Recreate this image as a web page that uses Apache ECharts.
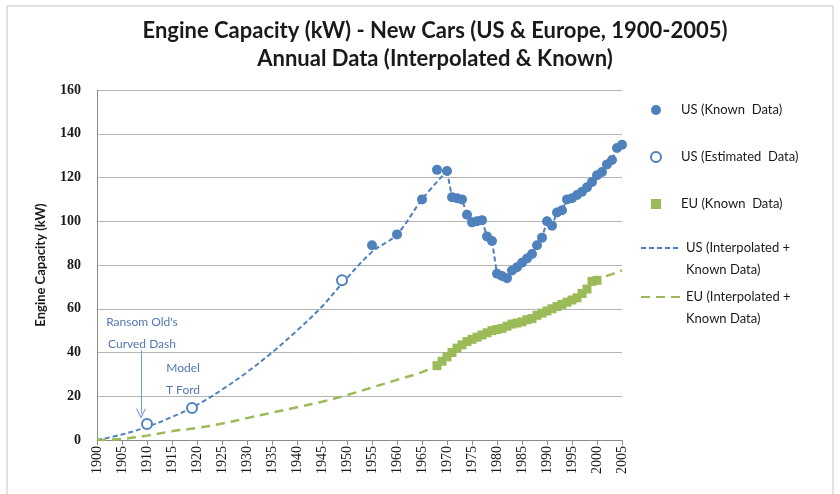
<!DOCTYPE html>
<html>
<head>
<meta charset="utf-8">
<script src="https://cdn.jsdelivr.net/npm/echarts@6/dist/echarts.min.js"></script>
<style>
  html, body { margin: 0; padding: 0; background: #fff; }
  #chart { width: 840px; height: 494px; }
</style>
</head>
<body>
<div id="chart"></div>
<script>
// US known annual capacities (kW)
const usKnownYears = [1955, 1960, 1965, 1968, 1970, 1971, 1972, 1973, 1974, 1975, 1976, 1977, 1978, 1979,
  1980, 1981, 1982, 1983, 1984, 1985, 1986, 1987, 1988, 1989, 1990, 1991, 1992, 1993, 1994, 1995,
  1996, 1997, 1998, 1999, 2000, 2001, 2002, 2003, 2004, 2005];
const usKnownValues = [89, 94, 110, 123.5, 123, 111, 110.5, 110, 103, 99.5, 100, 100.5, 93, 91,
  76, 75, 74, 77.5, 79, 81, 83, 85, 89, 92.5, 100, 98, 104, 105, 110, 110.5,
  112, 113.5, 115.5, 118, 121, 122.5, 126, 128, 133.5, 135];

// US estimated early models
const usEstYears = [1910, 1919, 1949];
const usEstValues = [7.3, 14.6, 73];

// EU known annual capacities (kW)
const euKnownYears = [1968, 1969, 1970, 1971, 1972, 1973, 1974, 1975, 1976, 1977, 1978, 1979, 1980,
  1981, 1982, 1983, 1984, 1985, 1986, 1987, 1988, 1989, 1990, 1991, 1992, 1993, 1994, 1995, 1996,
  1997, 1998, 1999, 2000];
const euKnownValues = [34, 36, 38, 40, 42, 43.5, 45, 46, 47, 48, 49, 50, 50.5,
  51, 52, 53, 53.5, 54, 55, 55.5, 57, 58, 59, 60, 61, 62, 63, 64, 65,
  67, 69, 72.5, 73];

// Interpolated curves (early years)
const usCurveYears = [1900, 1905, 1910, 1915, 1920, 1925, 1930, 1935, 1940, 1945, 1949, 1955, 1960, 1965, 1970];
const usCurveValues = [0, 2.5, 6, 10.5, 16, 23, 31, 40, 50, 61, 71.5, 86, 94, 110, 123];
const euCurveYears = [1900, 1905, 1910, 1915, 1920, 1925, 1930, 1935, 1940, 1945, 1950, 1955, 1960, 1965, 1968];
const euCurveValues = [0, 0.5, 2, 4, 5.5, 7.5, 10, 12.5, 15, 17.5, 20.5, 24, 27.5, 31, 34];
// EU extension beyond the last known year
const euTailYears = [2001, 2002, 2003, 2004, 2005];
const euTailValues = [74, 75, 75.8, 76.6, 77.5];

const yTicks = [0, 20, 40, 60, 80, 100, 120, 140, 160];

const pairs = (xs, ys) => xs.map((x, i) => [x, ys[i]]);

const US_BLUE = '#4F81BD';
const EU_GREEN = '#9BBB59';
const NOTE = '#5378b2';
const FONT = 'Lato, "Liberation Sans", sans-serif';
const SERIF = '"Liberation Serif", "DejaVu Serif", serif';

const usLineName = 'US (Interpolated +\nKnown Data)';
const euLineName = 'EU (Interpolated +\nKnown Data)';

const usKnownPts = pairs(usKnownYears, usKnownValues);
const usTail = usKnownPts.filter(p => p[0] >= 1970);
const euKnownPts = pairs(euKnownYears, euKnownValues);

const chart = echarts.init(document.getElementById('chart'), null, { renderer: 'canvas' });

chart.setOption({
  animation: false,
  backgroundColor: '#fff',
  graphic: [{
    type: 'rect',
    shape: { x: 7, y: 6, width: 826, height: 500 },
    style: { fill: null, stroke: '#c4c4c4', lineWidth: 1 },
    silent: true
  }],
  title: {
    text: 'Engine Capacity (kW) - New Cars (US & Europe, 1900-2005)\nAnnual Data (Interpolated & Known)',
    left: 430,
    top: 12,
    textAlign: 'center',
    textStyle: { fontFamily: FONT, fontSize: 22, fontWeight: 'bold', color: '#1a1a1a', lineHeight: 28 }
  },
  grid: { left: 97, right: 218, top: 90, bottom: 54, containLabel: false },
  xAxis: {
    type: 'value',
    min: 1900, max: 2005, interval: 5,
    axisLine: { show: true, lineStyle: { color: '#8c8c8c', width: 1 } },
    axisTick: { show: true, length: 5, lineStyle: { color: '#8c8c8c' } },
    splitLine: { show: false },
    axisLabel: {
      rotate: 90, margin: 6,
      fontFamily: SERIF, fontSize: 14, color: '#1a1a1a',
      formatter: v => String(v)
    }
  },
  yAxis: {
    type: 'value',
    min: yTicks[0], max: yTicks[yTicks.length - 1], interval: 20,
    name: 'Engine Capacity (kW)',
    nameLocation: 'middle', nameGap: 50,
    nameTextStyle: { fontFamily: FONT, fontSize: 13, fontWeight: 'bold', color: '#1a1a1a' },
    axisLine: { show: true, lineStyle: { color: '#8c8c8c', width: 1 } },
    axisTick: { show: false },
    splitLine: { show: true, lineStyle: { color: '#b4b4b4', width: 1 } },
    axisLabel: {
      margin: 16,
      fontFamily: SERIF, fontSize: 14, fontWeight: 'bold', color: '#1a1a1a'
    }
  },
  legend: [{
    orient: 'vertical',
    left: 650, top: 99, padding: 0,
    itemWidth: 40, itemHeight: 10, itemGap: 25,
    data: [
      { name: 'US (Known  Data)', icon: 'circle' },
      { name: 'US (Estimated  Data)', icon: 'emptyCircle' },
      { name: 'EU (Known  Data)', icon: 'path://M0,0H10V10H0Z' }
    ],
    textStyle: { fontFamily: FONT, fontSize: 13, color: '#1a1a1a', lineHeight: 22 },
    selectedMode: false
  }, {
    orient: 'vertical',
    left: 640, top: 215, padding: 0,
    itemWidth: 40, itemHeight: 10, itemGap: -17,
    data: [usLineName, euLineName],
    itemStyle: { opacity: 0 },
    formatter: name => '\n' + name,
    textStyle: { fontFamily: FONT, fontSize: 13, color: '#1a1a1a', lineHeight: 22 },
    selectedMode: false
  }],
  series: [
    {
      name: usLineName, type: 'line', smooth: 0.35,
      data: pairs(usCurveYears, usCurveValues),
      symbol: 'none', z: 2,
      lineStyle: { color: US_BLUE, width: 2, type: [5, 3] },
      itemStyle: { color: US_BLUE }
    },
    {
      name: usLineName, type: 'line',
      data: usTail,
      symbol: 'none', z: 2,
      lineStyle: { color: US_BLUE, width: 2, type: [5, 3] },
      itemStyle: { color: US_BLUE }
    },
    {
      name: euLineName, type: 'line', smooth: 0.35,
      data: pairs(euCurveYears, euCurveValues),
      symbol: 'none', z: 2,
      lineStyle: { color: EU_GREEN, width: 2.5, type: [9, 6] },
      itemStyle: { color: EU_GREEN }
    },
    {
      name: euLineName, type: 'line',
      data: euKnownPts.concat(pairs(euTailYears, euTailValues)),
      symbol: 'none', z: 2,
      lineStyle: { color: EU_GREEN, width: 2.5, type: [9, 6] },
      itemStyle: { color: EU_GREEN }
    },
    {
      name: 'US (Known  Data)', type: 'scatter',
      data: usKnownPts,
      symbol: 'circle', symbolSize: 10, z: 4,
      itemStyle: { color: US_BLUE, opacity: 1 }
    },
    {
      name: 'US (Estimated  Data)', type: 'scatter',
      data: pairs(usEstYears, usEstValues),
      symbol: 'emptyCircle', symbolSize: 10, z: 4,
      itemStyle: { color: US_BLUE, borderColor: US_BLUE, borderWidth: 1, opacity: 1 },
      markPoint: {
        silent: true,
        symbol: 'circle', symbolSize: 0,
        label: {
          show: true, position: 'inside',
          fontFamily: FONT, fontSize: 12, color: NOTE, lineHeight: 22, align: 'center'
        },
        data: [
          { coord: [1909, 49], value: 0, label: { formatter: "Ransom Old's\nCurved Dash" } },
          { coord: [1917.2, 28], value: 0, label: { formatter: 'Model\nT Ford' } }
        ]
      },
      markLine: {
        silent: true,
        symbol: ['none', 'path://M0,9L5,0L10,9L8.8,9L5,2.2L1.2,9Z'],
        symbolSize: 10,
        label: { show: false },
        lineStyle: { color: '#7a9bd0', width: 1, type: 'solid' },
        data: [[{ coord: [1908.8, 41] }, { coord: [1908.8, 12] }]]
      }
    },
    {
      name: 'EU (Known  Data)', type: 'scatter',
      data: euKnownPts,
      symbol: 'rect', symbolSize: 9, z: 4,
      itemStyle: { color: EU_GREEN, opacity: 1 }
    }
  ]
});
</script>
</body>
</html>
